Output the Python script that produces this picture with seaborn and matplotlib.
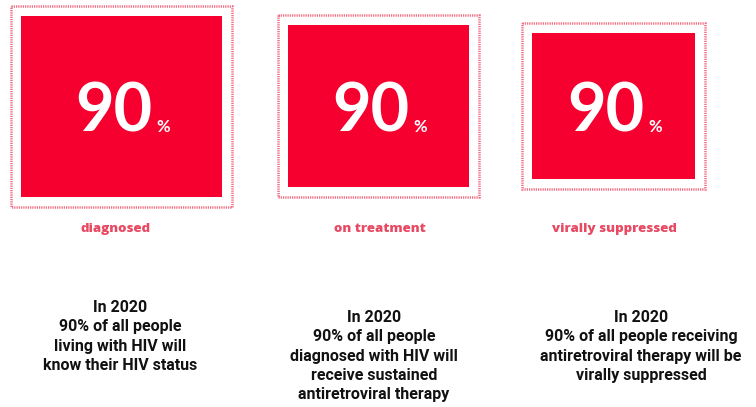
import numpy as np
import seaborn as sns
import matplotlib.pyplot as plt

# 90-90-90 targets
stages = ['diagnosed', 'on treatment', 'virally suppressed']
targets = [90, 90, 90]
captions = [
    ['In 2020', '90% of all people', 'living with HIV will', 'know their HIV status'],
    ['In 2020', '90% of all people', 'diagnosed with HIV will', 'receive sustained', 'antiretroviral therapy'],
    ['In 2020', '90% of all people receiving', 'antiretroviral therapy will be', 'virally suppressed'],
]

sns.set_theme(style='white')
plt.rcParams['font.family'] = ['Roboto', 'DejaVu Sans']

RED = '#F5002F'
PINK = '#E84A63'

fig = plt.figure(figsize=(7.56, 4.07), dpi=100)
ax = fig.add_axes([0, 0, 1, 1])
ax.set_xlim(0, 756)
ax.set_ylim(407, 0)
ax.axis('off')

# each square shrinks by the previous stage's share (cascade)
scale = np.concatenate([[1.0], np.cumprod(np.array(targets[:-1]) / 100)])
base_w, base_h = 201, 181
cx = [121.5, 378.5, 613.5]
cy = 106
pad = 10

for i, s in enumerate(scale):
    w, h = base_w * s, base_h * s
    ax.bar(cx[i], h, width=w, bottom=cy - h / 2, color=RED, linewidth=0)
    # dotted outer frame
    ax.bar(cx[i], h + 2 * pad, width=w + 2 * pad, bottom=cy - h / 2 - pad,
           color='none', edgecolor='#F07085', linewidth=1.8,
           linestyle=(0, (0.5, 0.4)))
    ax.text(cx[i] - 8, 132, str(targets[i]), color='white', fontsize=48,
            family=['Lato', 'DejaVu Sans'], fontweight='bold',
            ha='center', va='baseline')
    ax.text(cx[i] + 35, 132, '%', color='white', fontsize=12,
            family=['Lato', 'DejaVu Sans'], fontweight='bold',
            ha='left', va='baseline')

label_x = [116, 380, 614]
for i, lab in enumerate(stages):
    ax.text(label_x[i], 229, lab, color=PINK, fontsize=9.5, fontweight='heavy',
            family=['Open Sans', 'DejaVu Sans'], ha='center', va='center')

cap_x = [120, 374, 641]
cap_y = [307, 317, 317]
for i, lines in enumerate(captions):
    for j, line in enumerate(lines):
        ax.text(cap_x[i], cap_y[i] + j * 19.5, line, color='#111111',
                fontsize=11.5, fontweight='bold', ha='center', va='center')

fig.savefig('out.png', dpi=100)
